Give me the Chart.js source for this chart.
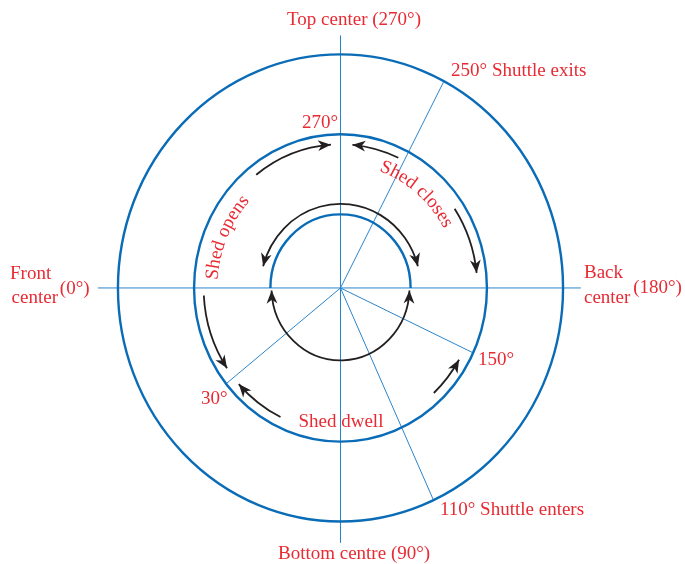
<!DOCTYPE html>
<html>
<head>
<meta charset="utf-8">
<script src="https://cdn.jsdelivr.net/npm/chart.js@4"></script>
<style>
  body { margin: 0; background: #fff; }
  #wrap { width: 685px; height: 564px; }
</style>
</head>
<body>
<div id="wrap"><canvas id="myChart" width="685" height="564"></canvas></div>
<script>
// rings, outer radius = 1 (shed ring and inner circle are fractions of it)
const ringRadii = [1.0, 0.658, 0.315];
const ringFrom = [0, 0, 0];
const ringTo = [360, 360, 180]; // inner circle: only the top half is blue

// cross lines through the centre
const axisX = [-1.09, 1.08];
const axisY = [1.08, -1.09];

// radial lines as drawn (angle from the right, counter-clockwise)
const spokeAngles = [62.3, -65.3, -25.0, -141.4];
const spokeLengths = [1.0, 1.0, 0.655, 0.655];

// black arrows, angles in degrees
const arcRadii = [0.615, 0.615, 0.615, 0.615, 0.615, 0.615, 0.36, 0.31];
const arcFrom = [128, 65, 33.5, 183, 244, -47, 15, 182];
const arcTo = [94, 85, 6, 214, 222, -30, 165, 358];
const arcHeads = ["end", "end", "end", "end", "end", "end", "both", "both"];

// straight labels
const labelTexts = [
  "Top center (270°)", "250° Shuttle exits",
  "Front", "center", "(0°)",
  "Back", "center", "(180°)",
  "Bottom centre (90°)", "110° Shuttle enters",
  "270°", "150°", "30°", "Shed dwell"
];
// curved labels along the shed ring
const curvedTexts = ["Shed opens", "Shed closes"];

// ---- layout (not data) ----
const labelPos = [
  [-0.240, 1.126], [0.497, 0.908],
  [-1.485, 0.039], [-1.478, -0.066], [-1.261, -0.026],
  [1.094, 0.043], [1.094, -0.064], [1.315, -0.021],
  [-0.281, -1.161], [0.447, -0.972],
  [-0.173, 0.685], [0.618, -0.330], [-0.627, -0.497], [0.002, -0.595]
];
const labelAlign = ["left", "left", "left", "left", "left", "left", "left", "left",
  "left", "left", "left", "left", "left", "center"];
const curvedRadius = [0.553, 0.53];
const curvedMid = [157, 49.8];

const BLUE = "#0a6cb6";
const THIN = "#2a84cc";
const RED = "#e82a33";
const INK = "#231f20";
const FONT = '19px "Liberation Serif", "Times New Roman", serif';

const rad = (d) => (d * Math.PI) / 180;

const lineSets = [];
lineSets.push({
  data: [{ x: axisX[0], y: 0 }, { x: axisX[1], y: 0 }],
});
lineSets.push({
  data: [{ x: 0, y: axisY[0] }, { x: 0, y: axisY[1] }],
});
spokeAngles.forEach((a, i) => {
  lineSets.push({
    data: [
      { x: 0, y: 0 },
      { x: spokeLengths[i] * Math.cos(rad(a)), y: spokeLengths[i] * Math.sin(rad(a)) },
    ],
  });
});
lineSets.forEach((d) => {
  d.showLine = true;
  d.borderColor = THIN;
  d.borderWidth = 1;
  d.pointRadius = 0;
  d.fill = false;
});

// draw an arrow head: tip (px), direction unit vector
function head(ctx, x, y, dx, dy) {
  const L = 13, W = 5.4;
  const nx = -dy, ny = dx;
  ctx.beginPath();
  ctx.moveTo(x, y);
  ctx.lineTo(x - dx * L + nx * W, y - dy * L + ny * W);
  ctx.lineTo(x - dx * L * 0.72, y - dy * L * 0.72);
  ctx.lineTo(x - dx * L - nx * W, y - dy * L - ny * W);
  ctx.closePath();
  ctx.fill();
}

const diagram = {
  id: "diagram",
  afterDatasetsDraw(chart) {
    const ctx = chart.ctx;
    const sx = chart.scales.x, sy = chart.scales.y;
    const cx = sx.getPixelForValue(0), cy = sy.getPixelForValue(0);
    const rx = (r) => sx.getPixelForValue(r) - cx;
    const ry = (r) => cy - sy.getPixelForValue(r);
    ctx.save();

    // rings
    ctx.strokeStyle = BLUE;
    ctx.lineWidth = 2.4;
    ringRadii.forEach((r, i) => {
      ctx.beginPath();
      ctx.ellipse(cx, cy, rx(r), ry(r), 0, -rad(ringFrom[i]), -rad(ringTo[i]), true);
      ctx.stroke();
    });

    // arrows
    ctx.strokeStyle = INK;
    ctx.fillStyle = INK;
    ctx.lineWidth = 1.8;
    arcRadii.forEach((r, i) => {
      const a1 = arcFrom[i], a2 = arcTo[i];
      const up = a2 > a1;
      ctx.beginPath();
      ctx.ellipse(cx, cy, rx(r), ry(r), 0, -rad(a1), -rad(a2), up);
      ctx.stroke();
      const tip = (a, forward) => {
        const t = rad(a);
        const px = cx + rx(r) * Math.cos(t), py = cy - ry(r) * Math.sin(t);
        let dx = -rx(r) * Math.sin(t), dy = -ry(r) * Math.cos(t);
        if (!forward) { dx = -dx; dy = -dy; }
        const n = Math.hypot(dx, dy);
        head(ctx, px, py, dx / n, dy / n);
      };
      tip(a2, up);
      if (arcHeads[i] === "both") tip(a1, !up);
    });

    // labels
    ctx.fillStyle = RED;
    ctx.font = FONT;
    ctx.textBaseline = "alphabetic";
    labelTexts.forEach((t, i) => {
      ctx.textAlign = labelAlign[i];
      ctx.fillText(t, sx.getPixelForValue(labelPos[i][0]), sy.getPixelForValue(labelPos[i][1]));
    });

    // curved labels, read clockwise with tops outward
    ctx.textAlign = "center";
    curvedTexts.forEach((t, i) => {
      const r = curvedRadius[i];
      const arcLen = (a) => Math.hypot(rx(r) * Math.sin(rad(a)), ry(r) * Math.cos(rad(a))) * Math.PI / 180;
      const total = ctx.measureText(t).width / arcLen(curvedMid[i]);
      let a = curvedMid[i] + total / 2;
      for (const ch of t) {
        const w = ctx.measureText(ch).width;
        const ac = a - w / 2 / arcLen(a);
        const tr = rad(ac);
        const px = cx + rx(r) * Math.cos(tr), py = cy - ry(r) * Math.sin(tr);
        const ang = Math.atan2(ry(r) * Math.cos(tr), rx(r) * Math.sin(tr));
        ctx.save();
        ctx.translate(px, py);
        ctx.rotate(ang);
        ctx.fillText(ch, 0, 0);
        ctx.restore();
        a -= w / arcLen(a);
      }
    });

    ctx.restore();
  },
};

const ctx = document.getElementById("myChart").getContext("2d");
const myChart = new Chart(ctx, {
  type: "scatter",
  data: { datasets: lineSets },
  options: {
    responsive: false,
    animation: false,
    devicePixelRatio: 1,
    layout: { padding: 0 },
    events: [],
    scales: {
      x: { type: "linear", min: -1.530, max: 1.548, display: false },
      y: { type: "linear", min: -1.182, max: 1.233, display: false },
    },
    plugins: {
      legend: { display: false },
      tooltip: { enabled: false },
    },
  },
  plugins: [diagram],
});
</script>
</body>
</html>
